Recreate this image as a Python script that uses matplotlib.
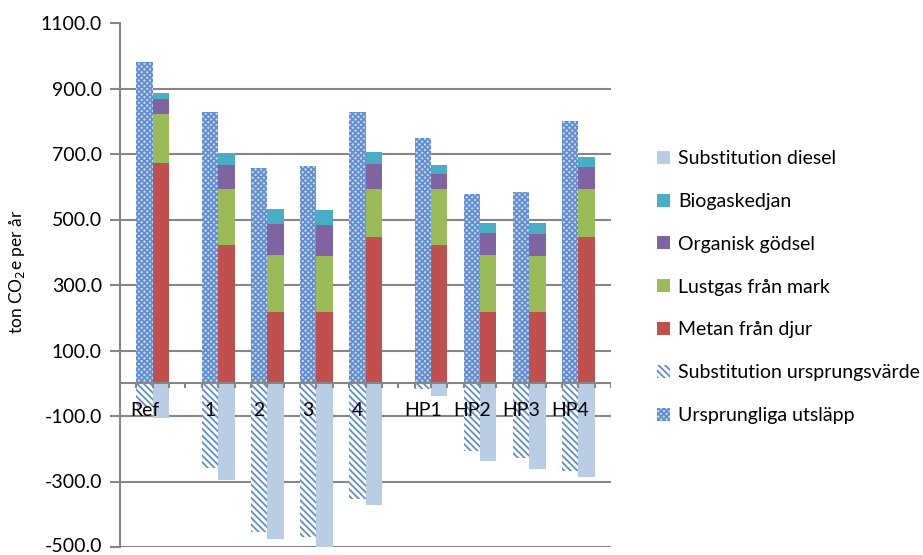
import matplotlib
matplotlib.use("Agg")
import matplotlib.pyplot as plt
import matplotlib.transforms as mtransforms
from matplotlib.patches import Patch
import numpy as np

plt.rcParams['font.family'] = ['Lato', 'DejaVu Sans']
plt.rcParams['hatch.linewidth'] = 1.3

# Scenarios
categories = ['Ref', '1', '2', '3', '4', 'HP1', 'HP2', 'HP3', 'HP4']

# Left column of each scenario (ton CO2e per år)
ursprungliga_utslapp = [980, 828, 657, 663, 828, 749, 578, 584, 800]
substitution_ursprungsvarde = [-75, -259, -453, -470, -354, -18, -208, -228, -268]

# Right column of each scenario, stacked
metan_djur = [674, 421, 217, 217, 446, 421, 217, 217, 446]
lustgas_mark = [148, 173, 175, 172, 147, 172, 175, 171, 147]
organisk_godsel = [45, 73, 93, 93, 76, 47, 66, 67, 66]
biogaskedjan = [19, 35, 46, 48, 37, 26, 32, 35, 31]
substitution_diesel = [-105, -294, -476, -505, -371, -40, -238, -261, -286]

# Slot index of each scenario's first column on the category axis
slot_start = [1, 5, 8, 11, 14, 18, 21, 24, 27]
n_slots = 30

C_RED = '#c0504d'
C_GREEN = '#9bbb59'
C_PURPLE = '#8064a2'
C_TEAL = '#4bacc6'
C_LIGHT = '#b9cde5'
C_PAT = '#5f8dcf'
C_DOT_BG = '#cddbf1'
C_GRID = '#868686'

FS = 14

fig = plt.figure(figsize=(9.23, 5.55), dpi=100)
ax = fig.add_axes([120 / 923, 8 / 555, 491 / 923, 524 / 555])

x_left = np.array(slot_start, dtype=float)
x_right = x_left + 1

# Original emissions (dotted pattern) and substitution of original value (diagonal)
ax.bar(x_left, ursprungliga_utslapp, width=1, align='edge', color=C_DOT_BG,
       edgecolor=C_PAT, hatch='xxxxxx', linewidth=0, zorder=2)
ax.bar(x_left, substitution_ursprungsvarde, width=1, align='edge', color='white',
       edgecolor=C_PAT, hatch='\\\\\\\\\\', linewidth=0, zorder=2)

# Stacked components
bottom = np.zeros(len(categories))
for vals, col in [(metan_djur, C_RED), (lustgas_mark, C_GREEN),
                  (organisk_godsel, C_PURPLE), (biogaskedjan, C_TEAL)]:
    ax.bar(x_right, vals, width=1, align='edge', bottom=bottom, color=col,
           linewidth=0, zorder=2)
    bottom = bottom + np.array(vals)
ax.bar(x_right, substitution_diesel, width=1, align='edge', color=C_LIGHT,
       linewidth=0, zorder=2)

ax.set_xlim(0, n_slots)
ax.set_ylim(-500, 1100)

# Grid lines
for v in range(-500, 1000, 200):
    ax.axhline(v, color=C_GRID, linewidth=1.5, zorder=1)

# Category axis at zero with tick marks at slot boundaries
ax.axhline(0, color=C_GRID, linewidth=1.5, zorder=3)
for s in range(n_slots + 1):
    ax.plot([s, s], [0, -16], color=C_GRID, linewidth=1.5, zorder=3,
            solid_capstyle='butt')

for xs, lab in zip(x_left, categories):
    ax.text(xs + 0.5, -82, lab, ha='center', va='center', fontsize=FS,
            color='black', zorder=4)

# Value axis
for side in ['top', 'right', 'bottom']:
    ax.spines[side].set_visible(False)
ax.spines['left'].set_color(C_GRID)
ax.spines['left'].set_linewidth(1.5)
ax.set_xticks([])
ax.set_yticks(np.arange(-500, 1101, 200))
ax.set_yticklabels([f'{v:.1f}' for v in range(-500, 1101, 200)])
ax.tick_params(axis='y', length=7, width=1.5, color=C_GRID, labelsize=FS,
               pad=6, labelcolor='black')

# Lift the lowest tick label slightly so it stays inside the figure
lowest = ax.get_yticklabels()[0]
lowest.set_transform(lowest.get_transform() +
                     mtransforms.ScaledTranslation(0, 2 / 100, fig.dpi_scale_trans))

fig.text(17 / 923, 1 - 272 / 555, 'ton CO$_2$e per år', rotation=90,
         ha='center', va='center', fontsize=12.5)

handles = [
    Patch(facecolor=C_LIGHT, linewidth=0, label='Substitution diesel'),
    Patch(facecolor=C_TEAL, linewidth=0, label='Biogaskedjan'),
    Patch(facecolor=C_PURPLE, linewidth=0, label='Organisk gödsel'),
    Patch(facecolor=C_GREEN, linewidth=0, label='Lustgas från mark'),
    Patch(facecolor=C_RED, linewidth=0, label='Metan från djur'),
    Patch(facecolor='white', edgecolor=C_PAT, hatch='\\\\\\\\\\', linewidth=0,
          label='Substitution ursprungsvärde'),
    Patch(facecolor=C_DOT_BG, edgecolor=C_PAT, hatch='xxxxxx', linewidth=0,
          label='Ursprungliga utsläpp'),
]
fig.legend(handles=handles, loc='upper left', bbox_to_anchor=(657 / 923, 1 - 150 / 555),
           frameon=False, fontsize=FS, handlelength=0.65, handleheight=0.65,
           handletextpad=0.45, labelspacing=1.33, borderaxespad=0, borderpad=0)

fig.savefig('out.png', dpi=100)
